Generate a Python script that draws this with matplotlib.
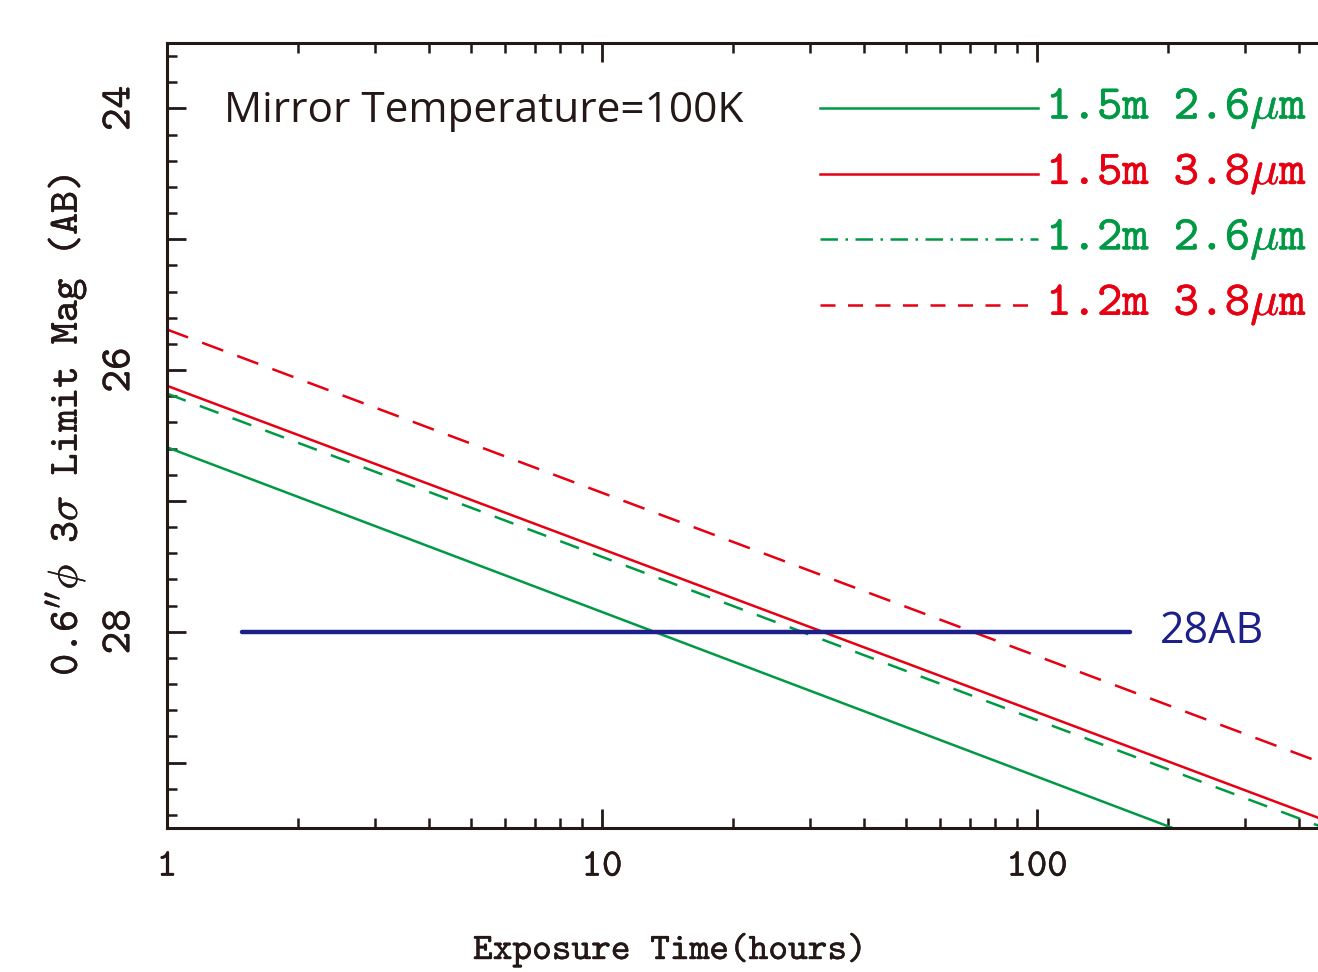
import numpy as np
import matplotlib
matplotlib.use("Agg")
import matplotlib.pyplot as plt
import matplotlib.transforms as mtransforms
import matplotlib.patheffects as pe
from matplotlib.ticker import FixedLocator, FixedFormatter, MultipleLocator

# ---- data ----
exposure_hours = [1.0, 450.0]
mag_15m_26um = [26.59, 29.93]
mag_15m_38um = [26.12, 29.43]
mag_12m_26um = [26.18, 29.49]
mag_12m_38um = [25.69, 29.00]
ref_exposure = [1.49, 164.0]
ref_mag = [28.0, 28.0]
legend_labels = [r"1.5m 2.6$\mu$m", r"1.5m 3.8$\mu$m", r"1.2m 2.6$\mu$m", r"1.2m 3.8$\mu$m"]
xtick_values = [1, 10, 100]
xtick_labels = ["1", "10", "100"]
ytick_values = [24, 26, 28]
ytick_labels = ["24", "26", "28"]

GREEN = "#009944"
RED = "#e60012"
BLUE = "#1d2088"
BLACK = "#231815"

plt.rcParams["font.family"] = ["cmtt10", "DejaVu Sans"]
plt.rcParams["mathtext.fontset"] = "cm"
plt.rcParams["axes.unicode_minus"] = False


def heavy(color, w=0.3):
    return [pe.withStroke(linewidth=w, foreground=color)]


W, H = 1318, 972
fig = plt.figure(figsize=(W / 100, H / 100), dpi=100)
left, right, top, bottom = 167, 1318, 43, 828
ax = fig.add_axes([left / W, 1 - bottom / H, (right - left) / W, (bottom - top) / H])

ax.set_xscale("log")
xmax = 10 ** ((right - left) / 435.0)
ax.set_xlim(1, xmax)
ax.set_ylim(29.5, 23.5)

lw = 1.8
ax.plot(exposure_hours, mag_15m_26um, color=GREEN, lw=lw, solid_capstyle="butt")
ax.plot(exposure_hours, mag_15m_38um, color=RED, lw=lw, solid_capstyle="butt")
ax.plot(exposure_hours, mag_12m_26um, color=GREEN, lw=lw, linestyle=(0, (8, 6)))
ax.plot(exposure_hours, mag_12m_38um, color=RED, lw=lw, linestyle=(0, (9, 6)))
ax.plot(ref_exposure, ref_mag, color=BLUE, lw=3.2, solid_capstyle="round")

# legend drawn manually
trans = mtransforms.blended_transform_factory(ax.transAxes, ax.transData)
styles = [
    dict(color=GREEN, linestyle="-"),
    dict(color=RED, linestyle="-"),
    dict(color=GREEN, linestyle=(0, (7, 3, 1, 3))),
    dict(color=RED, linestyle=(0, (6, 5))),
]
leg_y = [24.0, 24.5, 25.0, 25.5]
x0 = (820 - left) / (right - left)
x1 = (1038 - left) / (right - left)
xt = (1046 - left) / (right - left)
for lab, st, yy in zip(legend_labels, styles, leg_y):
    ax.plot([x0, x1], [yy, yy], transform=trans, lw=lw, clip_on=False, **st)
    ax.text(xt, yy, lab, transform=trans, color=st["color"], fontsize=35,
            ha="left", va="center", family="cmtt10", path_effects=heavy(st["color"]))

ax.text((224 - left) / (right - left), 24.02, "Mirror Temperature=100K", transform=trans,
        fontsize=30.5, family="Open Sans", color=BLACK, ha="left", va="center")
ax.text((1160 - left) / (right - left), 28.0, "28AB", transform=trans,
        fontsize=31, family="Open Sans", color=BLUE, ha="left", va="center")

# axes styling
for s in ["left", "bottom", "top"]:
    ax.spines[s].set_linewidth(2.2)
    ax.spines[s].set_color(BLACK)
ax.spines["right"].set_visible(False)

ax.xaxis.set_major_locator(FixedLocator(xtick_values))
ax.xaxis.set_major_formatter(FixedFormatter(xtick_labels))
ax.yaxis.set_minor_locator(MultipleLocator(0.2))
ax.set_yticks(ytick_values + [25, 27, 29])
ax.set_yticklabels(ytick_labels + ["", "", ""])

ax.tick_params(which="both", direction="in", colors=BLACK, top=True, right=False)
ax.tick_params(which="major", length=14, width=2.0)
ax.tick_params(which="minor", length=7, width=1.8)
ax.tick_params(axis="x", which="major", labelsize=28, pad=17)
ax.tick_params(axis="y", which="major", labelsize=31, pad=20, labelrotation=90)
for t in ax.get_yticklabels():
    t.set_va("center")
for t in ax.get_xticklabels() + ax.get_yticklabels():
    t.set_family("cmtt10")
    t.set_path_effects(heavy(BLACK))

ax.set_xlabel("Exposure Time(hours)", fontsize=27, color=BLACK, path_effects=heavy(BLACK))
ax.xaxis.label.set_va("center")
ax.xaxis.set_label_coords((670 - left) / (right - left), (bottom - 950) / (bottom - top))
ax.set_ylabel(r"0.6$^{\prime\prime}\phi$ 3$\sigma$ Limit Mag (AB)", fontsize=30, color=BLACK,
              path_effects=heavy(BLACK))
ax.yaxis.set_label_coords((88 - left) / (right - left), (bottom - 425) / (bottom - top))

fig.savefig("out.png", dpi=100)
